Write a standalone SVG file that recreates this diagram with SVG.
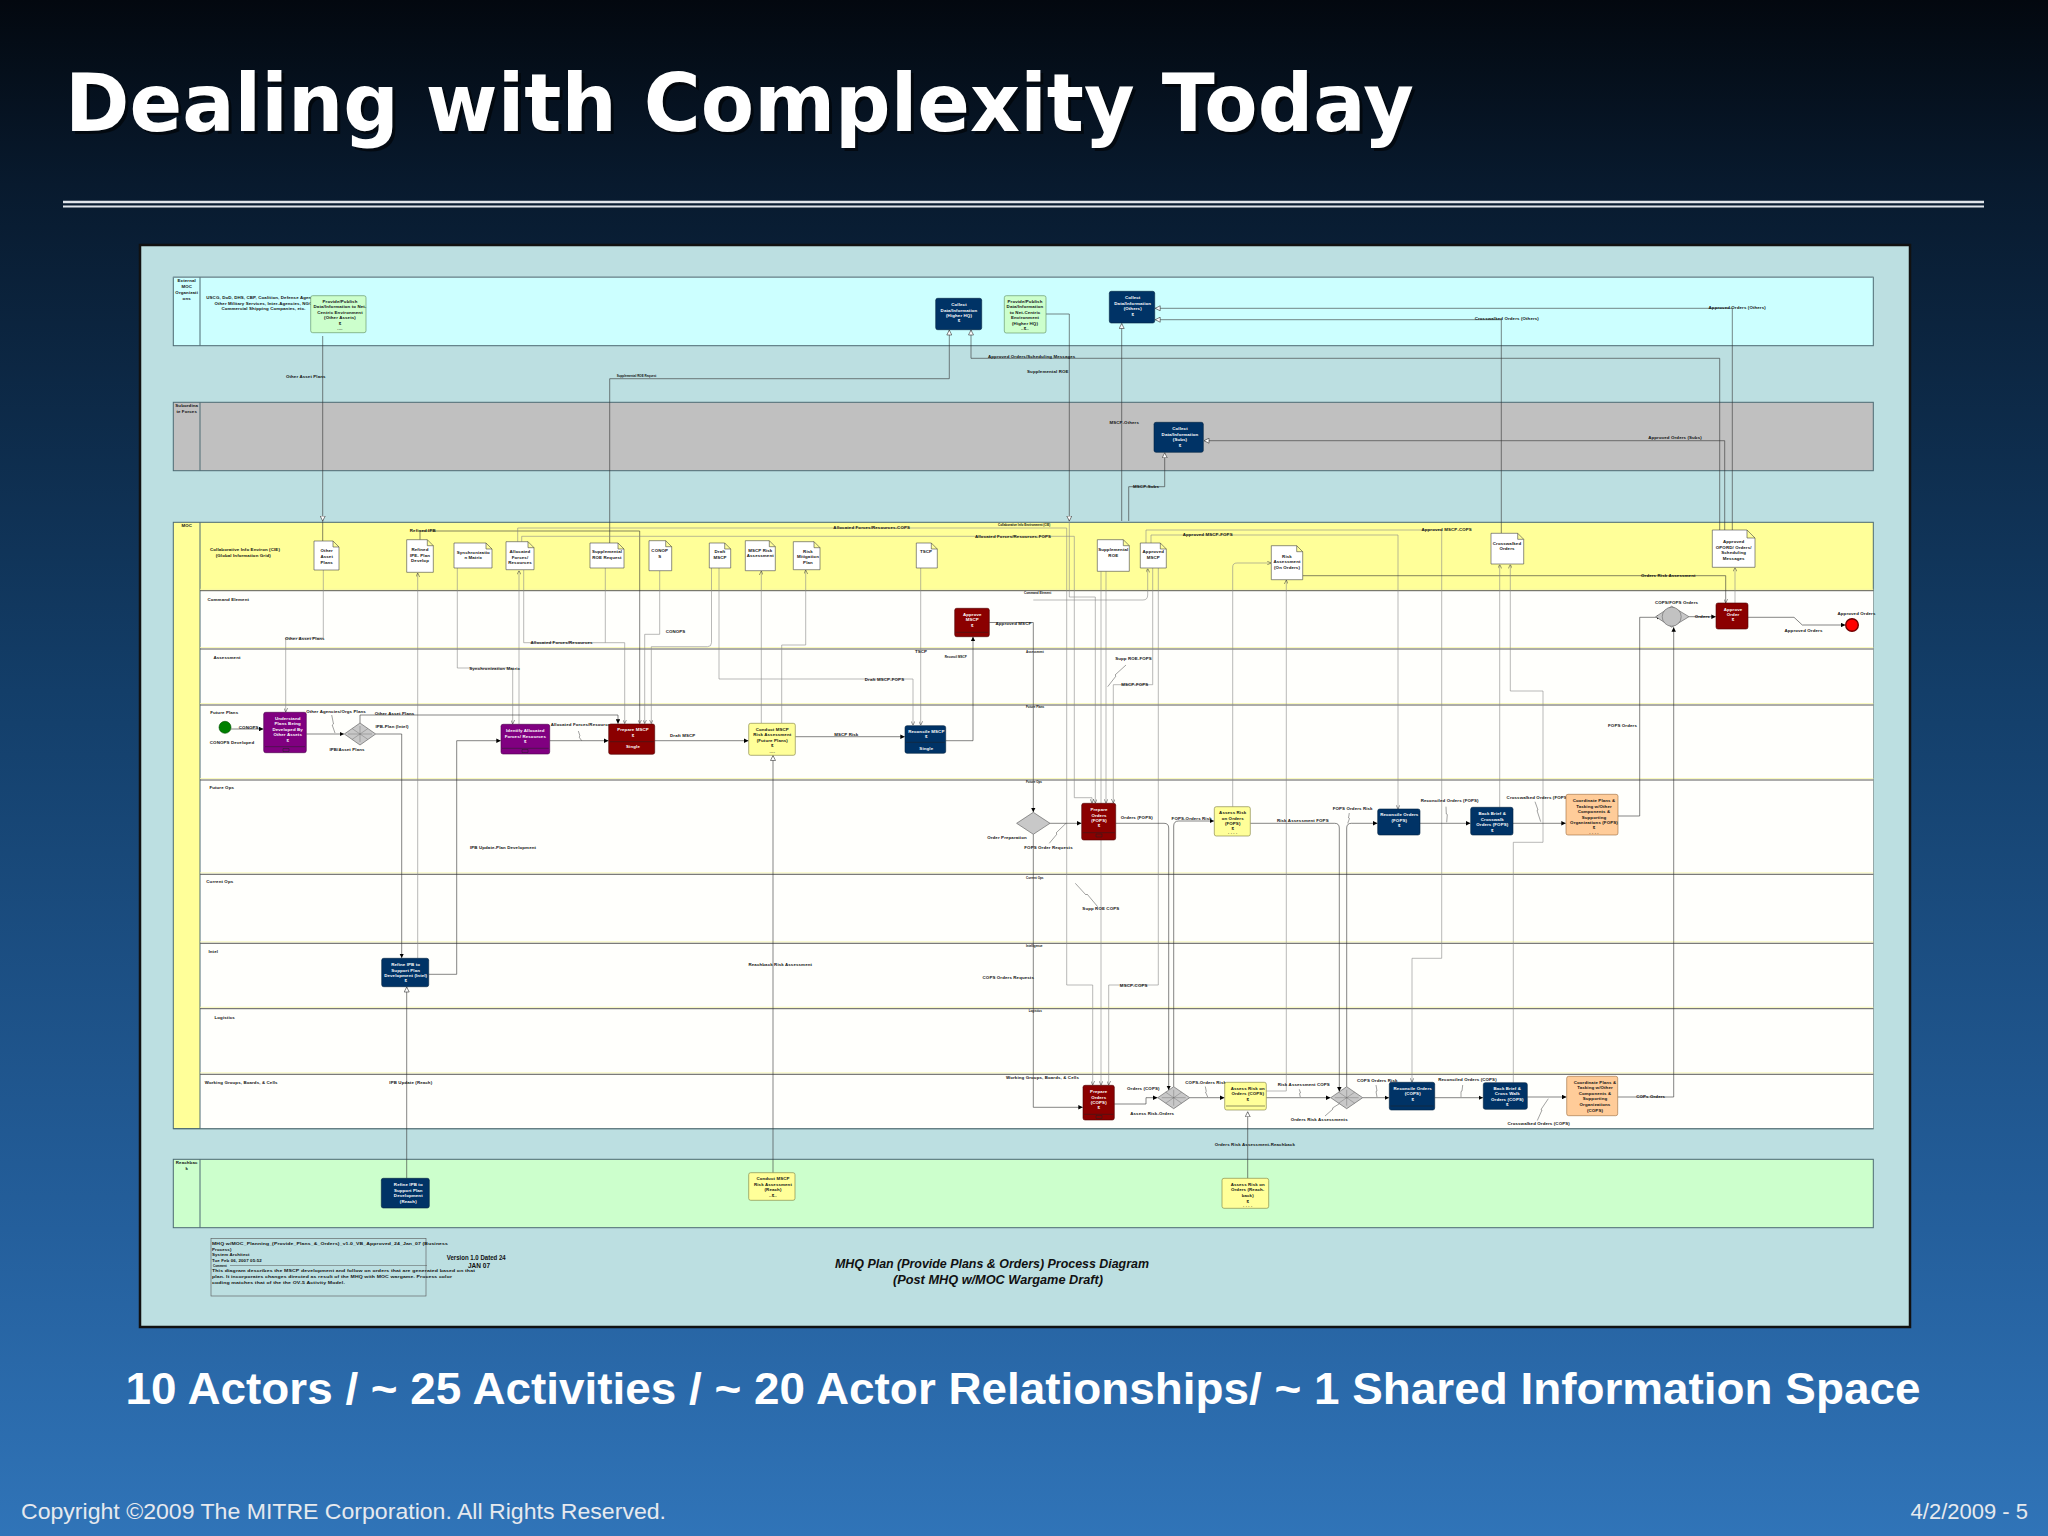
<svg xmlns="http://www.w3.org/2000/svg" width="2048" height="1536" viewBox="0 0 2048 1536">
<defs>
<linearGradient id="bg" x1="0" y1="0" x2="0" y2="1">
<stop offset="0" stop-color="#03080f"/>
<stop offset="0.12" stop-color="#081a2e"/>
<stop offset="0.45" stop-color="#133e69"/>
<stop offset="0.8" stop-color="#245f9c"/>
<stop offset="1" stop-color="#3074b8"/>
</linearGradient>
<marker id="af" viewBox="0 0 10 10" refX="10" refY="5" markerWidth="4.5" markerHeight="4.5" markerUnits="userSpaceOnUse" orient="auto"><path d="M0,0 L10,5 L0,10 z" fill="#000"/></marker>
<marker id="ah" viewBox="0 0 12 12" refX="11" refY="6" markerWidth="6" markerHeight="6" markerUnits="userSpaceOnUse" orient="auto"><path d="M1,1 L11,6 L1,11 z" fill="#fff" stroke="#333" stroke-width="1.2"/></marker>
<marker id="av" viewBox="0 0 10 10" refX="10" refY="5" markerWidth="4" markerHeight="4" markerUnits="userSpaceOnUse" orient="auto"><path d="M0,0 L10,5 L0,10" fill="none" stroke="#333" stroke-width="1.2"/></marker>
<style>
.t{font-family:"Liberation Sans",Arial,sans-serif;font-weight:bold;font-size:4.4px;letter-spacing:.12px;fill:#111}
.m{text-anchor:middle}
.w{fill:#fff}
.s{font-size:3px;letter-spacing:0}
.l{fill:none;stroke:#333;stroke-width:.6}
.lg{fill:none;stroke:#8a8a8a;stroke-width:.6}
.af{marker-end:url(#af)}
.ah{marker-end:url(#ah)}
.av{marker-end:url(#av)}
.nv{fill:#003366;stroke:#00213f;stroke-width:.6}
.rd{fill:#8b0000;stroke:#4d0000;stroke-width:.6}
.pu{fill:#800080;stroke:#4a004a;stroke-width:.6}
.ye{fill:#ffff99;stroke:#7a7a3a;stroke-width:.6}
.gr{fill:#ccffcc;stroke:#5a8a5a;stroke-width:.6}
.or{fill:#ffcc99;stroke:#9a6a3a;stroke-width:.6}
.doc{fill:#fff;stroke:#444;stroke-width:.6}
.dv{stroke:#222;stroke-width:.5;fill:none}
.gw{fill:#c8c8c8;stroke:#555;stroke-width:.6}
.gi{stroke:#666;stroke-width:.4;fill:none}
.lane{stroke:#4d6a72;stroke-width:1}
.sl{stroke:#5a5a5a;stroke-width:1}
.sy{stroke:#f6f6a6;stroke-width:.8}
.tk{fill:none;stroke:#444;stroke-width:.5}
</style>
</defs>

<rect x="0" y="0" width="2048" height="1536" fill="url(#bg)"/>

<g id="slide-title">
<text x="68" y="134" font-family="DejaVu Sans, Verdana, sans-serif" font-weight="bold" font-size="80" fill="#000" fill-opacity="0.55" textLength="1349" lengthAdjust="spacingAndGlyphs">Dealing with Complexity Today</text>
<text x="65" y="131" font-family="DejaVu Sans, Verdana, sans-serif" font-weight="bold" font-size="80" fill="#ffffff" textLength="1349" lengthAdjust="spacingAndGlyphs">Dealing with Complexity Today</text>
<line x1="63" y1="202" x2="1984" y2="202" stroke="#dfe4ea" stroke-width="2.5"/>
<line x1="63" y1="206.5" x2="1984" y2="206.5" stroke="#dfe4ea" stroke-width="2"/>
</g>

<g id="frame">
<rect x="140" y="245" width="1770" height="1082" fill="#bcdfe1" stroke="#111" stroke-width="2.5"/>
</g>

<g id="lanes">
<rect x="173.3" y="277.3" width="1700" height="68.4" fill="#ccffff" class="lane"/>
<line x1="173.3" y1="277.3" x2="1873.3" y2="277.3" stroke="#7f9ca2" stroke-width="1.6"/>
<line x1="200" y1="277.3" x2="200" y2="345.7" class="lane"/>
<rect x="173.3" y="402.3" width="1700" height="68.4" fill="#c0c0c0" class="lane"/>
<line x1="200" y1="402.3" x2="200" y2="470.7" class="lane"/>
<rect x="173.3" y="522.3" width="1700" height="606.4" fill="#ffff99" class="lane"/>
<rect x="200" y="590.7" width="1673.3" height="538" fill="#fffffc"/>
<line x1="200" y1="522.3" x2="200" y2="1128.7" class="lane"/>
<line x1="200" y1="589.3" x2="1873.3" y2="589.3" class="sy"/>
<line x1="200" y1="590.7" x2="1873.3" y2="590.7" class="sl"/>
<line x1="200" y1="647.6" x2="1873.3" y2="647.6" class="sy"/>
<line x1="200" y1="649" x2="1873.3" y2="649" class="sl"/>
<line x1="200" y1="703.6" x2="1873.3" y2="703.6" class="sy"/>
<line x1="200" y1="705" x2="1873.3" y2="705" class="sl"/>
<line x1="200" y1="778.6" x2="1873.3" y2="778.6" class="sy"/>
<line x1="200" y1="780" x2="1873.3" y2="780" class="sl"/>
<line x1="200" y1="872.9" x2="1873.3" y2="872.9" class="sy"/>
<line x1="200" y1="874.3" x2="1873.3" y2="874.3" class="sl"/>
<line x1="200" y1="941.9" x2="1873.3" y2="941.9" class="sy"/>
<line x1="200" y1="943.3" x2="1873.3" y2="943.3" class="sl"/>
<line x1="200" y1="1007.3" x2="1873.3" y2="1007.3" class="sy"/>
<line x1="200" y1="1008.7" x2="1873.3" y2="1008.7" class="sl"/>
<line x1="200" y1="1072.9" x2="1873.3" y2="1072.9" class="sy"/>
<line x1="200" y1="1074.3" x2="1873.3" y2="1074.3" class="sl"/>
<line x1="173.3" y1="1128.7" x2="1873.3" y2="1128.7" class="lane"/>
<rect x="173.3" y="1159.3" width="1700" height="68.4" fill="#ccffcc" class="lane"/>
<line x1="200" y1="1159.3" x2="200" y2="1227.7" class="lane"/>
</g>

<g id="lane-labels">
<text class="t m" x="186.7"><tspan x="186.7" y="282">External</tspan><tspan x="186.7" y="288">MOC</tspan><tspan x="186.7" y="294">Organizati</tspan><tspan x="186.7" y="300">ons</tspan></text>
<text class="t m" x="264"><tspan x="264" y="298.8">USCG, DoD, DHS, CBP, Coalition, Defense Agencies,</tspan><tspan x="265.5" y="304.5">Other Military Services, Inter-Agencies, NGOs,</tspan><tspan x="263.5" y="310.2">Commercial Shipping Companies, etc.</tspan></text>
<text class="t m" x="186.7"><tspan x="186.7" y="406.5">Subordina</tspan><tspan x="186.7" y="412.5">te Forces</tspan></text>
<text class="t m" x="186.7" y="527.2">MOC</text>
<text class="t m" x="245"><tspan x="245" y="551.2">Collaborative Info Environ (CIE)</tspan><tspan x="243.3" y="556.5">(Global Information Grid)</tspan></text>
<text class="t m" x="228.3" y="600.5">Command Element</text>
<text class="t m" x="227" y="658.5">Assessment</text>
<text class="t m" x="224.2" y="713.8">Future Plans</text>
<text class="t m" x="221.7" y="788.8">Future Ops</text>
<text class="t m" x="219.8" y="882.8">Current Ops</text>
<text class="t m" x="213.3" y="952.8">Intel</text>
<text class="t m" x="224.7" y="1018.5">Logistics</text>
<text class="t m" x="241.2" y="1083.8">Working Groups, Boards, &amp; Cells</text>
<text class="t m" x="186.7"><tspan x="186.7" y="1164.2">Reachbac</tspan><tspan x="186.7" y="1169.8">k</tspan></text>
<text class="t s" x="998" y="525.7">Collaborative Info Environment (CIE)</text>
<text class="t s" x="1024" y="594.3">Command Element</text>
<text class="t s" x="1026" y="652.7">Assessment</text>
<text class="t s" x="1026" y="707.7">Future Plans</text>
<text class="t s" x="1026" y="783.3">Future Ops</text>
<text class="t s" x="1026" y="878.7">Current Ops</text>
<text class="t s" x="1026" y="946.7">Intelligence</text>
<text class="t s" x="1028.7" y="1012">Logistics</text>
<text class="t m" x="1042.5" y="1078.5">Working Groups, Boards, &amp; Cells</text>
</g>

<g id="connectors">
<path class="l ah" d="M322.7,336 V521"/>
<path class="l" d="M322.7,521 V541"/>
<path class="l ah" d="M609.7,543 V378.7 H949.3 V330"/>
<path class="l ah" d="M1719.7,530 V358.3 H971 V330"/>
<path class="l ah" d="M1046,314 H1069.3 V521"/>
<path class="lg av" d="M1069.3,521 V597 H1095.3 V803"/>
<path class="l ah" d="M1121.7,521 V323.5"/>
<path class="l ah" d="M1128.7,521 V486.7 H1164.7 V452.8"/>
<path class="l ah" d="M1724.7,530 V440.7 H1204"/>
<path class="l ah" d="M1732.3,530 V308.3 H1155.2"/>
<path class="l ah" d="M1501.3,533.3 V319.7 H1155.2"/>

<path class="l av" d="M420,539.7 V531 H639.7 V723.5"/>
<path class="lg av" d="M417.7,958 V573"/>
<path class="lg av" d="M323.3,570 V638 H285.7 V712"/>
<path class="lg av" d="M457.3,568 V668 H512.7 V724"/>
<path class="lg av" d="M519,724 V570.5"/>
<path class="lg av" d="M523.7,570 V642.7 H624.7 V723.5"/>
<path class="lg" d="M605.3,568 V642.7"/>
<path class="lg av" d="M517.7,541.7 V528 H1066.7 V985 H1092.7 V1085"/>
<path class="lg av" d="M521.7,541.7 V536.3 H1074.3 V797.7 H1092 V803"/>
<path class="lg av" d="M659.7,570.7 V634.3 H644.7 V723.5"/>
<path class="lg av" d="M719,568 V679 H913 V725.2"/>
<path class="lg av" d="M711.5,568 V642.7 Q711.5,646.7 707.5,646.7 H651.3 V723.5"/>
<path class="lg av" d="M761.3,723 V571"/>
<path class="lg av" d="M781.7,723 V645 H805.7 V570"/>
<path class="lg av" d="M920.7,568 V725.2"/>
<path class="lg av" d="M1106,571.3 V803"/>
<path class="lg av" d="M1101,571.3 V1085"/>
<path class="lg av" d="M1152.7,568 V684.7 H1113.3 V803"/>
<path class="lg av" d="M1158.3,568 V985 H1108.7 V1085"/>
<path class="lg av" d="M1033.3,600 H1143 Q1147.7,600 1147.7,595 V568.5"/>
<path class="lg av" d="M1146,543 V530 H1441.7 V958.3 H1412 V1082"/>
<path class="lg av" d="M1151,543 V535 H1398 V809"/>
<path class="lg av" d="M1266.3,1091 H1286.3 V580"/>
<path class="lg av" d="M1232.7,806.7 V567 Q1232.7,563 1237,563 H1271"/>
<path class="l av" d="M1302.7,575.7 H1725.7 V603"/>
<path class="lg av" d="M1735,603 V567.5"/>
<path class="lg av" d="M1499.7,807.3 V564.5"/>
<path class="lg av" d="M1513.3,1082.7 V842.3 H1543 V691 H1510.3 V564.5"/>

<path class="l af" d="M231,729 H263.5"/>
<path class="l af" d="M306.3,734 H344"/>
<path class="l af" d="M360,723 V715 H618 V723.8"/>
<path class="l af" d="M375.7,734 H401.7 V958"/>
<path class="l af" d="M428.7,974.3 H456.7 V740.7 H500.8"/>
<path class="l af" d="M549.7,740.7 H608.5"/>
<path class="l af" d="M654.7,740.7 H748.5"/>
<path class="l af" d="M795.3,736.7 H904.8"/>
<path class="l af" d="M945.7,740.7 H973 V636.8"/>
<path class="l af" d="M989.3,622.5 H1033.3 V812.2"/>
<path class="l ah" d="M406.7,1178.3 V987"/>
<path class="l ah" d="M773,1172.7 V755.5"/>
<path class="l af" d="M1049.9,823.3 H1081.5"/>
<path class="l af" d="M1115.7,823.3 H1164 Q1168.7,823.3 1168.7,828 V1090"/>
<path class="l af" d="M1173.7,1086.7 V826 Q1173.7,821 1178.7,821 H1214"/>
<path class="l af" d="M1250.3,823.3 H1334.6 Q1339.3,823.3 1339.3,828 V1091.5"/>
<path class="l af" d="M1346.7,1086.7 V828 Q1346.7,823.3 1351.4,823.3 H1377.5"/>
<path class="l af" d="M1420,823.3 H1470.5"/>
<path class="l af" d="M1513,823.3 H1565.8"/>
<path class="l af" d="M1618,816 H1639.7 V617.3 H1661"/>
<path class="l af" d="M1617.7,1097 H1673.7 V627.2"/>
<path class="l af" d="M1689,616.7 H1715.8"/>
<path class="l af" d="M1748,617.3 H1794 L1802.3,625 H1845.3"/>
<path class="l af" d="M1033.3,834.3 V1107.3 H1082.8"/>
<path class="l af" d="M1114.3,1104 H1146 V1097.7 H1157.5"/>
<path class="l af" d="M1189.7,1097.7 H1224.5"/>
<path class="l af" d="M1266.3,1097.7 H1330.5"/>
<path class="l af" d="M1362.7,1097.7 H1389"/>
<path class="l af" d="M1434.7,1097.7 H1483"/>
<path class="l af" d="M1527.3,1097 H1566.5"/>
<path class="l ah" d="M1247.7,1178.3 V1111.8"/>

<path class="tk" d="M331.7,715 L333.5,724 L332.2,725 L335,733"/>
<path class="tk" d="M578.3,731 L580,736 L579,737 L581.7,740.7"/>
<path class="tk" d="M1049.3,843.3 L1057,834 L1056,833 L1066,823.3"/>
<path class="tk" d="M1107.7,686.7 L1116,676 L1115,675 L1126,665"/>
<path class="tk" d="M1075.3,883.3 L1086,895 L1087,894 L1097.7,906.7"/>
<path class="tk" d="M1349.3,813 L1348.5,818 L1349.5,818.5 L1347.7,823.3"/>
<path class="tk" d="M1446,806.7 L1446.3,814 L1447.3,814.5 L1446.7,822.3"/>
<path class="tk" d="M1535,801.7 L1538,810 L1537,810.5 L1540.7,821.7"/>
<path class="tk" d="M1205.3,1086.5 L1206.3,1091.5 L1205.5,1092 L1207.7,1097"/>
<path class="tk" d="M1299.3,1089.3 L1300.5,1093 L1299.5,1093.5 L1300.3,1097"/>
<path class="tk" d="M1376,1085 L1377,1091 L1376,1091.5 L1377,1097"/>
<path class="tk" d="M1462.7,1085 L1462,1091 L1461,1091.5 L1461,1097"/>
<path class="tk" d="M1537.3,1120.5 L1542,1110 L1541,1109.5 L1548.3,1098.7"/>
<path class="tk" d="M1325,1116 L1333,1109 L1332.5,1108 L1341,1102.7"/>
</g>

<g id="connector-labels">
<text class="t m" x="305.8" y="377.5">Other Asset Plans</text>
<text class="t s m" x="636.5" y="376.7">Supplemental ROE Request</text>
<text class="t m" x="1031.7" y="357.8">Approved Orders/Scheduling Messages</text>
<text class="t m" x="1047.8" y="372.5">Supplemental ROE</text>
<text class="t m" x="1124.2" y="423.8">MSCP-Others</text>
<text class="t m" x="1146" y="487.5">MSCP-Subs</text>
<text class="t m" x="1675" y="438.8">Approved Orders (Subs)</text>
<text class="t m" x="1506.8" y="319.8">Crosswalked Orders (Others)</text>
<text class="t m" x="1737.2" y="308.8">Approved Orders (Others)</text>
<text class="t m" x="422.8" y="532.2">Refined IPB</text>
<text class="t m" x="871.7" y="528.8">Allocated Forces/Resources-COPS</text>
<text class="t m" x="1013" y="537.8">Allocated Forces/Resources-FOPS</text>
<text class="t m" x="1207.7" y="536.2">Approved MSCP-FOPS</text>
<text class="t m" x="1446.7" y="530.8">Approved MSCP-COPS</text>
<text class="t m" x="1668.3" y="577.2">Orders Risk Assessment</text>
<text class="t m" x="1676.5" y="604.2">COPS/FOPS Orders</text>
<text class="t m" x="304.8" y="639.5">Other Asset Plans</text>
<text class="t m" x="561.5" y="644.2">Allocated Forces/Resources</text>
<text class="t m" x="675.5" y="633.2">CONOPS</text>
<text class="t m" x="1013.5" y="624.8">Approved MSCP</text>
<text class="t m" x="494.7" y="669.5">Synchronization Matrix</text>
<text class="t m" x="921" y="652.5">TSCP</text>
<text class="t s m" x="955.7" y="657.7">Reconcil MSCP</text>
<text class="t m" x="884.5" y="680.5">Draft MSCP-FOPS</text>
<text class="t m" x="1133.5" y="659.5">Supp ROE-FOPS</text>
<text class="t m" x="1134.8" y="686.2">MSCP-FOPS</text>
<text class="t m" x="248.7" y="729">CONOPS</text>
<text class="t m" x="232" y="743.5">CONOPS Developed</text>
<text class="t m" x="336" y="713.2">Other Agencies/Orgs Plans</text>
<text class="t m" x="394.5" y="715.2">Other Asset Plans</text>
<text class="t m" x="392" y="727.5">IPB-Plan (Intel)</text>
<text class="t m" x="347" y="750.5">IPB/Asset Plans</text>
<text class="t m" x="581.8" y="725.5">Allocated Forces/Resources</text>
<text class="t m" x="682.7" y="736.5">Draft MSCP</text>
<text class="t m" x="846.3" y="735.5">MSCP Risk</text>
<text class="t m" x="1622.5" y="726.5">FOPS Orders</text>
<text class="t m" x="1007" y="838.8">Order Preparation</text>
<text class="t m" x="1048.5" y="848.5">FOPS Order Requests</text>
<text class="t m" x="1136.8" y="819.2">Orders (FOPS)</text>
<text class="t m" x="1191.7" y="819.8">FOPS-Orders Risk</text>
<text class="t m" x="1302.8" y="822.2">Risk Assessment FOPS</text>
<text class="t m" x="1352.7" y="810.2">FOPS Orders Risk</text>
<text class="t m" x="1449.7" y="801.5">Reconciled Orders (FOPS)</text>
<text class="t m" x="1537.5" y="798.8">Crosswalked Orders (FOPS)</text>
<text class="t m" x="503" y="848.8">IPB Update-Plan Development</text>
<text class="t m" x="1100.8" y="910.2">Supp ROE COPS</text>
<text class="t m" x="780.3" y="965.8">Reachback Risk Assessment</text>
<text class="t m" x="1008.3" y="979.2">COPS Orders Requests</text>
<text class="t m" x="1133.7" y="986.5">MSCP-COPS</text>
<text class="t m" x="410.8" y="1084.2">IPB Update (Reach)</text>
<text class="t m" x="1143.3" y="1089.5">Orders (COPS)</text>
<text class="t m" x="1152.2" y="1115.2">Assess Risk-Orders</text>
<text class="t m" x="1205.7" y="1083.5">COPS-Orders Risk</text>
<text class="t m" x="1303.8" y="1086.2">Risk Assessment COPS</text>
<text class="t m" x="1319.2" y="1121.2">Orders Risk Assessments</text>
<text class="t m" x="1377.3" y="1082.2">COPS Orders Risk</text>
<text class="t m" x="1467.5" y="1081.2">Reconciled Orders (COPS)</text>
<text class="t m" x="1538.7" y="1124.8">Crosswalked Orders (COPS)</text>
<text class="t m" x="1650.7" y="1097.5">COPs Orders</text>
<text class="t m" x="1254.8" y="1146.2">Orders Risk Assessment-Reachback</text>
<text class="t m" x="1702.3" y="617.5">Orders</text>
<text class="t m" x="1856.5" y="615.2">Approved Orders</text>
<text class="t m" x="1803.5" y="631.5">Approved Orders</text>
</g>

<g id="n-provide-other"><rect class="gr" x="310.7" y="295.7" width="55.3" height="37" rx="2"/>
<text class="t m"><tspan x="340" y="302.5">Provide/Publish</tspan><tspan x="340" y="307.8">Data/Information to Net-</tspan><tspan x="340" y="313.5">Centric Environment</tspan><tspan x="340" y="318.8">(Other Assets)</tspan><tspan x="340" y="324.5">$</tspan><tspan x="340" y="330.2">....</tspan></text></g>
<g id="n-collect-hhq"><rect class="nv" x="935.7" y="298.3" width="46" height="31.4" rx="2"/>
<text class="t m w"><tspan x="959" y="306.2">Collect</tspan><tspan x="959" y="311.5">Data/Information</tspan><tspan x="959" y="316.8">(Higher HQ)</tspan><tspan x="959" y="322.2">$</tspan></text></g>
<g id="n-provide-hhq"><rect class="gr" x="1004.3" y="295.7" width="41.7" height="37.3" rx="2"/>
<text class="t m"><tspan x="1025" y="302.5">Provide/Publish</tspan><tspan x="1025" y="307.8">Data/Information</tspan><tspan x="1025" y="313.5">to Net-Centric</tspan><tspan x="1025" y="318.8">Environment</tspan><tspan x="1025" y="324.5">(Higher HQ)</tspan><tspan x="1025" y="330.2">..$..</tspan></text></g>
<g id="n-collect-others"><rect class="nv" x="1109.3" y="291.3" width="45.4" height="31.7" rx="2"/>
<text class="t m w"><tspan x="1132.7" y="298.8">Collect</tspan><tspan x="1132.7" y="304.5">Data/Information</tspan><tspan x="1132.7" y="310.2">(Others)</tspan><tspan x="1132.7" y="315.5">$</tspan></text></g>
<g id="n-collect-subs"><rect class="nv" x="1154" y="422.3" width="49.3" height="30" rx="2"/>
<text class="t m w"><tspan x="1180" y="429.8">Collect</tspan><tspan x="1180" y="435.5">Data/Information</tspan><tspan x="1180" y="441.2">(Subs)</tspan><tspan x="1180" y="446.5">$</tspan></text></g>

<g id="d-other-asset"><path class="doc" d="M314,541 H333 L339,547 V570 H314 Z M333,541 V547 H339"/>
<text class="t m"><tspan x="326.7" y="552.2">Other</tspan><tspan x="326.7" y="557.8">Asset</tspan><tspan x="326.7" y="563.5">Plans</tspan></text></g>
<g id="d-refined-ipb"><path class="doc" d="M406.7,539.7 H427.3 L433.3,545.7 V572.3 H406.7 Z M427.3,539.7 V545.7 H433.3"/>
<text class="t m"><tspan x="420" y="551.2">Refined</tspan><tspan x="420" y="556.8">IPE- Plan</tspan><tspan x="420" y="562.2">Develop</tspan></text></g>
<g id="d-sync"><path class="doc" d="M454,543 H486 L492,549 V568 H454 Z M486,543 V549 H492"/>
<text class="t m"><tspan x="473.3" y="553.5">Synchronizatio</tspan><tspan x="473.3" y="558.8">n Matrix</tspan></text></g>
<g id="d-allocated"><path class="doc" d="M506,541.7 H528 L534,547.7 V569.7 H506 Z M528,541.7 V547.7 H534"/>
<text class="t m"><tspan x="520" y="553.2">Allocated</tspan><tspan x="520" y="558.8">Forces/</tspan><tspan x="520" y="563.8">Resources</tspan></text></g>
<g id="d-supp-roe-req"><path class="doc" d="M590,543 H618 L624,549 V568 H590 Z M618,543 V549 H624"/>
<text class="t m"><tspan x="607" y="553.2">Supplemental</tspan><tspan x="607" y="558.8">ROE Request</tspan></text></g>
<g id="d-conops"><path class="doc" d="M649,540.7 H665.7 L671.7,546.7 V570.7 H649 Z M665.7,540.7 V546.7 H671.7"/>
<text class="t m"><tspan x="659.7" y="552.2">CONOP</tspan><tspan x="659.7" y="557.8">S</tspan></text></g>
<g id="d-draft-mscp"><path class="doc" d="M709.3,543 H724.7 L730.7,549 V568 H709.3 Z M724.7,543 V549 H730.7"/>
<text class="t m"><tspan x="720" y="553.2">Draft</tspan><tspan x="720" y="558.8">MSCP</tspan></text></g>
<g id="d-mscp-risk"><path class="doc" d="M745.3,540.7 H769.3 L775.3,546.7 V570.7 H745.3 Z M769.3,540.7 V546.7 H775.3"/>
<text class="t m"><tspan x="760.3" y="551.5">MSCP Risk</tspan><tspan x="760.3" y="557.2">Assessment</tspan></text></g>
<g id="d-risk-mit"><path class="doc" d="M793.3,541.7 H814 L820,547.7 V569.7 H793.3 Z M814,541.7 V547.7 H820"/>
<text class="t m"><tspan x="808" y="552.5">Risk</tspan><tspan x="808" y="558.2">Mitigation</tspan><tspan x="808" y="563.8">Plan</tspan></text></g>
<g id="d-tscp"><path class="doc" d="M916.3,543 H931.3 L937.3,549 V568 H916.3 Z M931.3,543 V549 H937.3"/>
<text class="t m" x="926" y="553.2">TSCP</text></g>
<g id="d-supp-roe"><path class="doc" d="M1097.3,539.7 H1123.3 L1129.3,545.7 V571.3 H1097.3 Z M1123.3,539.7 V545.7 H1129.3"/>
<text class="t m"><tspan x="1113.3" y="551.2">Supplemental</tspan><tspan x="1113.3" y="556.5">ROE</tspan></text></g>
<g id="d-approved-mscp"><path class="doc" d="M1140.3,543 H1160.3 L1166.3,549 V568 H1140.3 Z M1160.3,543 V549 H1166.3"/>
<text class="t m"><tspan x="1153.3" y="553.2">Approved</tspan><tspan x="1153.3" y="558.8">MSCP</tspan></text></g>
<g id="d-risk-assess"><path class="doc" d="M1271.3,545.7 H1296.7 L1302.7,551.7 V579.7 H1271.3 Z M1296.7,545.7 V551.7 H1302.7"/>
<text class="t m"><tspan x="1287" y="557.8">Risk</tspan><tspan x="1287" y="563.2">Assessment</tspan><tspan x="1287" y="568.5">(On Orders)</tspan></text></g>
<g id="d-crosswalked"><path class="doc" d="M1491,533.3 H1517.7 L1523.7,539.3 V564 H1491 Z M1517.7,533.3 V539.3 H1523.7"/>
<text class="t m"><tspan x="1507" y="544.8">Crosswalked</tspan><tspan x="1507" y="550.2">Orders</tspan></text></g>
<g id="d-approved-opord"><path class="doc" d="M1712.3,530 H1747 L1755,538 V567.3 H1712.3 Z M1747,530 V538 H1755"/>
<text class="t m"><tspan x="1733.7" y="543.2">Approved</tspan><tspan x="1733.7" y="548.8">OPORD/ Orders/</tspan><tspan x="1733.7" y="554.2">Scheduling</tspan><tspan x="1733.7" y="559.5">Messages</tspan></text></g>

<g id="start"><circle cx="225" cy="727.3" r="6" fill="#008000" stroke="#004d00" stroke-width=".6"/></g>
<g id="end"><circle cx="1852" cy="625" r="6.3" fill="#ff0000" stroke="#700000" stroke-width="1.4"/></g>

<g id="g-plans"><path class="gw" d="M344.3,734 L360,723 L375.7,734 L360,745 Z"/><path class="gi" d="M352,728.5 L368,739.5 M352,739.5 L368,728.5 M348,734 H372 M360,726 V742"/></g>
<g id="g-order-prep"><path class="gw" d="M1016.6,823.3 L1033.3,812.3 L1050,823.3 L1033.3,834.3 Z"/></g>
<g id="g-assess-orders"><path class="gw" d="M1157.7,1097.7 L1173.7,1086.7 L1189.7,1097.7 L1173.7,1108.7 Z"/><path class="gi" d="M1165.7,1092.2 L1181.7,1103.2 M1165.7,1103.2 L1181.7,1092.2 M1161.7,1097.7 H1185.7 M1173.7,1089.7 V1105.7"/></g>
<g id="g-risk-assess"><path class="gw" d="M1330.7,1097.7 L1346.7,1086.7 L1362.7,1097.7 L1346.7,1108.7 Z"/><path class="gi" d="M1338.7,1092.2 L1354.7,1103.2 M1338.7,1103.2 L1354.7,1092.2 M1334.7,1097.7 H1358.7 M1346.7,1089.7 V1105.7"/></g>
<g id="g-orders"><path class="gw" d="M1655.7,616.7 L1671.7,606.2 L1689,616.7 L1671.7,627.2 Z"/><circle cx="1671.7" cy="616.7" r="9.5" fill="#c2c2c2" stroke="#666" stroke-width=".6"/></g>

<g id="n-understand"><rect class="pu" x="263.7" y="712.3" width="42.6" height="40.4" rx="2"/>
<text class="t m w"><tspan x="287.7" y="719.5">Understand</tspan><tspan x="287.7" y="724.8">Plans Being</tspan><tspan x="287.7" y="730.5">Developed By</tspan><tspan x="287.7" y="736.2">Other Assets</tspan><tspan x="287.7" y="741.5">$</tspan></text>
<path class="dv" d="M265,746.7 H305 M283,748.5 h6 v3 h-6 z"/></g>
<g id="n-identify"><rect class="pu" x="501" y="724.3" width="48.7" height="29.7" rx="2"/>
<text class="t m w"><tspan x="525.3" y="732.2">Identify Allocated</tspan><tspan x="525.3" y="737.5">Forces/ Resources</tspan><tspan x="525.3" y="742.8">$</tspan></text>
<path class="dv" d="M502,748.3 H548.7 M522,749.5 h6 v3 h-6 z"/></g>
<g id="n-prepare-mscp"><rect class="rd" x="608.7" y="724" width="46" height="30.3" rx="2"/>
<text class="t m w"><tspan x="633" y="731.2">Prepare MSCP</tspan><tspan x="633" y="736.8">$</tspan><tspan x="633" y="748.2">Single</tspan></text>
<path class="dv" d="M609.7,741.7 H653.7"/></g>
<g id="n-conduct-fp"><rect class="ye" x="748.7" y="723.3" width="46.6" height="32" rx="2"/>
<text class="t m"><tspan x="772.3" y="730.5">Conduct MSCP</tspan><tspan x="772.3" y="736.2">Risk Assessment</tspan><tspan x="772.3" y="741.5">(Future Plans)</tspan><tspan x="772.3" y="746.8">$</tspan><tspan x="772.3" y="752.5">....</tspan></text></g>
<g id="n-reconcile-mscp"><rect class="nv" x="905" y="725.7" width="40.7" height="27.6" rx="2"/>
<text class="t m w"><tspan x="926.3" y="732.5">Reconcile MSCP</tspan><tspan x="926.3" y="738.2">$</tspan><tspan x="926.3" y="749.8">Single</tspan></text>
<path class="dv" d="M906,742.3 H944.7"/></g>
<g id="n-approve-mscp"><rect class="rd" x="954.7" y="608.3" width="34.6" height="28.4" rx="2"/>
<text class="t m w"><tspan x="972.3" y="615.8">Approve</tspan><tspan x="972.3" y="621.2">MSCP</tspan><tspan x="972.3" y="626.5">$</tspan></text>
<path class="dv" d="M955.7,632.3 H988.3"/></g>
<g id="n-prepare-orders-fops"><rect class="rd" x="1081.7" y="803.3" width="34" height="36.7" rx="2"/>
<text class="t m w"><tspan x="1099" y="810.8">Prepare</tspan><tspan x="1099" y="816.5">Orders</tspan><tspan x="1099" y="821.8">(FOPS)</tspan><tspan x="1099" y="827.2">$</tspan></text>
<path class="dv" d="M1082.7,832.7 H1114.7 M1096,834 h6 v3 h-6 z"/></g>
<g id="n-assess-fops"><rect class="ye" x="1214.3" y="806.7" width="36" height="29.3" rx="2"/>
<text class="t m"><tspan x="1232.7" y="813.8">Assess Risk</tspan><tspan x="1232.7" y="819.5">on Orders</tspan><tspan x="1232.7" y="825.2">(FOPS)</tspan><tspan x="1232.7" y="830.3">$</tspan><tspan x="1232.7" y="834.3">. . . .</tspan></text></g>
<g id="n-reconcile-fops"><rect class="nv" x="1377.7" y="809" width="42.3" height="26" rx="2"/>
<text class="t m w"><tspan x="1399.3" y="815.8">Reconcile Orders</tspan><tspan x="1399.3" y="821.5">(FOPS)</tspan><tspan x="1399.3" y="826.8">$</tspan></text></g>
<g id="n-backbrief-fops"><rect class="nv" x="1470.7" y="807.3" width="42.3" height="27.7" rx="2"/>
<text class="t m w"><tspan x="1492.3" y="814.8">Back Brief &amp;</tspan><tspan x="1492.3" y="820.5">Crosswalk</tspan><tspan x="1492.3" y="826.2">Orders (FOPS)</tspan><tspan x="1492.3" y="831.5">$</tspan></text></g>
<g id="n-coord-fops"><rect class="or" x="1566" y="794.3" width="52" height="40.7" rx="2"/>
<text class="t m"><tspan x="1594" y="801.8">Coordinate Plans &amp;</tspan><tspan x="1594" y="807.5">Tasking w/Other</tspan><tspan x="1594" y="812.8">Components &amp;</tspan><tspan x="1594" y="818.5">Supporting</tspan><tspan x="1594" y="823.8">Organizations (FOPS)</tspan><tspan x="1594" y="829.2">$</tspan><tspan x="1594" y="833.5">. . . .</tspan></text></g>
<g id="n-approve-order"><rect class="rd" x="1716" y="603" width="32" height="26" rx="2"/>
<text class="t m w"><tspan x="1733" y="610.5">Approve</tspan><tspan x="1733" y="615.8">Order</tspan><tspan x="1733" y="621.2">$</tspan></text></g>
<g id="n-refine-intel"><rect class="nv" x="381.7" y="958.3" width="47" height="28.4" rx="2"/>
<text class="t m w"><tspan x="405.7" y="965.8">Refine IPB to</tspan><tspan x="405.7" y="971.5">Support Plan</tspan><tspan x="405.7" y="976.8">Development (Intel)</tspan><tspan x="405.7" y="982.2">$</tspan></text></g>
<g id="n-prepare-orders-cops"><rect class="rd" x="1083" y="1085.3" width="31.3" height="34.7" rx="2"/>
<text class="t m w"><tspan x="1098.7" y="1092.8">Prepare</tspan><tspan x="1098.7" y="1098.5">Orders</tspan><tspan x="1098.7" y="1104.2">(COPS)</tspan><tspan x="1098.7" y="1109.2">$</tspan></text>
<path class="dv" d="M1084,1114.3 H1113.3 M1096,1115.5 h6 v3 h-6 z"/></g>
<g id="n-assess-cops"><rect class="ye" x="1224.7" y="1082.3" width="41.6" height="27.7" rx="2"/>
<text class="t m"><tspan x="1247.7" y="1089.8">Assess Risk on</tspan><tspan x="1247.7" y="1095.2">Orders (COPS)</tspan><tspan x="1247.7" y="1100.5">$</tspan></text>
<path class="dv" d="M1226,1106 H1265"/></g>
<g id="n-reconcile-cops"><rect class="nv" x="1389.3" y="1082.3" width="45.4" height="27.7" rx="2"/>
<text class="t m w"><tspan x="1412.7" y="1089.8">Reconcile Orders</tspan><tspan x="1412.7" y="1095.2">(COPS)</tspan><tspan x="1412.7" y="1100.5">$</tspan></text>
<path class="dv" d="M1390.5,1106 H1433.5"/></g>
<g id="n-backbrief-cops"><rect class="nv" x="1483.3" y="1082.7" width="44" height="26.6" rx="2"/>
<text class="t m w"><tspan x="1507.3" y="1089.8">Back Brief &amp;</tspan><tspan x="1507.3" y="1095.2">Cross Walk</tspan><tspan x="1507.3" y="1100.5">Orders (COPS)</tspan><tspan x="1507.3" y="1105.8">$</tspan></text></g>
<g id="n-coord-cops"><rect class="or" x="1566.7" y="1076.3" width="51" height="39.4" rx="2"/>
<text class="t m"><tspan x="1595" y="1083.5">Coordinate Plans &amp;</tspan><tspan x="1595" y="1089.2">Tasking w/Other</tspan><tspan x="1595" y="1094.8">Components &amp;</tspan><tspan x="1595" y="1100.2">Supporting</tspan><tspan x="1595" y="1105.5">Organizations</tspan><tspan x="1595" y="1111.5">(COPS)</tspan></text></g>
<g id="n-reach-ipb"><rect class="nv" x="381.3" y="1178.3" width="48" height="29.7" rx="2"/>
<text class="t m w"><tspan x="408.3" y="1186.2">Refine IPB to</tspan><tspan x="408.3" y="1191.8">Support Plan</tspan><tspan x="408.3" y="1197.2">Development</tspan><tspan x="408.3" y="1202.8">(Reach)</tspan></text></g>
<g id="n-reach-mscp"><rect class="ye" x="748.7" y="1172.7" width="46.3" height="27.6" rx="2"/>
<text class="t m"><tspan x="773" y="1179.8">Conduct MSCP</tspan><tspan x="773" y="1185.5">Risk Assessment</tspan><tspan x="773" y="1191.2">(Reach)</tspan><tspan x="773" y="1197.2">..$..</tspan></text></g>
<g id="n-reach-orders"><rect class="ye" x="1222" y="1178.3" width="46.7" height="30" rx="2"/>
<text class="t m"><tspan x="1247.7" y="1185.5">Assess Risk on</tspan><tspan x="1247.7" y="1191.2">Orders (Reach-</tspan><tspan x="1247.7" y="1196.8">back)</tspan><tspan x="1247.7" y="1202.5">$</tspan><tspan x="1247.7" y="1206.5">. . . .</tspan></text></g>

<g id="diagram-footer">
<rect x="211" y="1238.7" width="215" height="57.3" fill="none" stroke="#555" stroke-width=".6"/>
<line x1="230" y1="1265.5" x2="427" y2="1265.5" stroke="#555" stroke-width=".5"/>
<text class="t" x="212" y="1245.2" textLength="236" lengthAdjust="spacingAndGlyphs">MHQ w/MOC_Planning_(Provide_Plans_&amp;_Orders)_v1.0_VB_Approved_24_Jan_07 (Business</text>
<text class="t" x="212" y="1250.8">Process)</text>
<text class="t" x="212" y="1256.4">System Architect</text>
<text class="t" x="212" y="1262">Tue Feb 06, 2007  05:52</text>
<text class="t s" x="213" y="1266.5">Comment</text>
<text class="t" x="212" y="1272.4" textLength="263" lengthAdjust="spacingAndGlyphs">This diagram describes the MSCP development and follow on orders that are generated based on that</text>
<text class="t" x="212" y="1278" textLength="240" lengthAdjust="spacingAndGlyphs">plan.  It incorporates changes directed as result of the MHQ with MOC wargame.  Process color</text>
<text class="t" x="212" y="1283.6" textLength="133" lengthAdjust="spacingAndGlyphs">coding matches that of the the OV-5 Activity Model.</text>
<text x="446.7" y="1259.5" font-family="Liberation Sans, Arial, sans-serif" font-weight="bold" font-size="7.5" fill="#111" textLength="59" lengthAdjust="spacingAndGlyphs">Version 1.0 Dated 24</text>
<text x="468" y="1268" font-family="Liberation Sans, Arial, sans-serif" font-weight="bold" font-size="7.5" fill="#111" textLength="22" lengthAdjust="spacingAndGlyphs">JAN 07</text>
<text x="835" y="1268" font-family="Liberation Sans, Arial, sans-serif" font-weight="bold" font-style="italic" font-size="13.5" fill="#111" textLength="314" lengthAdjust="spacingAndGlyphs">MHQ Plan (Provide Plans &amp; Orders) Process Diagram</text>
<text x="893" y="1283.5" font-family="Liberation Sans, Arial, sans-serif" font-weight="bold" font-style="italic" font-size="13.5" fill="#111" textLength="210" lengthAdjust="spacingAndGlyphs">(Post MHQ w/MOC Wargame Draft)</text>
</g>

<g id="slide-footer">
<text x="125.4" y="1404" font-family="Liberation Sans, Arial, sans-serif" font-weight="bold" font-size="45" fill="#ffffff" textLength="1795" lengthAdjust="spacingAndGlyphs">10 Actors / ~ 25 Activities / ~  20 Actor Relationships/ ~ 1 Shared Information Space</text>
<text x="21" y="1519" font-family="Liberation Sans, Arial, sans-serif" font-size="22" fill="#e6e9ee" textLength="645" lengthAdjust="spacingAndGlyphs">Copyright ©2009 The MITRE Corporation.  All Rights Reserved.</text>
<text x="2028" y="1519" text-anchor="end" font-family="Liberation Sans, Arial, sans-serif" font-size="22" fill="#e6e9ee">4/2/2009 - 5</text>
</g>
</svg>
